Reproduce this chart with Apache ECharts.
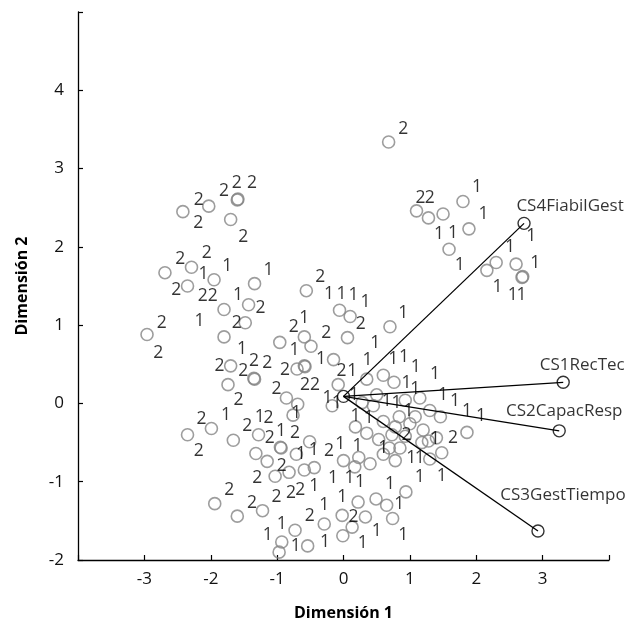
<!DOCTYPE html>
<html>
<head>
<meta charset="utf-8">
<script src="https://cdn.jsdelivr.net/npm/echarts@6/dist/echarts.min.js"></script>
<style>html,body{margin:0;padding:0;background:#fff}#c{width:638px;height:626px}</style>
</head>
<body>
<div id="c"></div>
<script>
// Object points (circles), [dim1, dim2]
const objectPoints = [
  [-2.42,2.45],[-2.03,2.52],[-1.60,2.60],[-1.59,2.61],[-1.70,2.35],
  [-2.69,1.67],[-2.29,1.74],[-1.95,1.58],[-2.35,1.50],[-1.34,1.53],
  [-1.80,1.20],[-1.43,1.26],[-1.48,1.03],[-2.96,0.88],[-1.80,0.85],
  [-0.96,0.78],[-0.59,0.85],[-0.49,0.73],[-1.70,0.48],[-1.35,0.32],
  [-1.34,0.31],[-1.74,0.24],[-0.70,0.44],[-0.59,0.48],[-0.58,0.47],
  [-0.86,0.07],[-0.69,-0.01],[-0.76,-0.15],[-2.35,-0.40],[-1.99,-0.32],
  [-1.66,-0.47],[-1.28,-0.40],[-0.95,-0.56],[-0.94,-0.57],[-0.51,-0.49],
  [-1.32,-0.64],[-1.15,-0.74],[-0.71,-0.65],[-1.03,-0.93],[-0.82,-0.88],
  [-0.59,-0.85],[-0.44,-0.82],[-1.94,-1.28],[-1.60,-1.44],[-1.22,-1.37],
  [-0.73,-1.62],[-0.93,-1.77],[-0.97,-1.90],[-0.54,-1.82],
  [-0.56,1.44],[-0.06,1.19],[0.10,1.11],[0.70,0.98],[0.06,0.84],
  [-0.15,0.56],[-0.08,0.24],[-0.17,-0.03],
  [0.35,0.31],[0.60,0.36],[0.76,0.27],[0.50,0.11],[0.28,0.01],
  [0.45,-0.03],[0.93,0.04],[1.15,0.07],[1.30,-0.09],[1.46,-0.17],
  [1.86,-0.37],[0.18,-0.30],[0.35,-0.38],[0.53,-0.46],[0.60,-0.23],
  [0.84,-0.17],[1.08,-0.17],[1.00,-0.26],[0.78,-0.30],[0.73,-0.40],
  [0.93,-0.42],[1.20,-0.34],[1.28,-0.48],[1.40,-0.44],[1.48,-0.63],
  [0.69,-0.57],[0.85,-0.57],[1.18,-0.50],[0.60,-0.65],[0.78,-0.73],
  [0.40,-0.77],[1.30,-0.71],[0.23,-0.69],[0.00,-0.73],[0.17,-0.81],
  [0.94,-1.13],[0.49,-1.22],[0.65,-1.30],[0.33,-1.45],[0.74,-1.47],
  [0.22,-1.26],[-0.29,-1.54],[-0.02,-1.43],[0.13,-1.58],[-0.01,-1.69],
  [0.68,3.34],[1.10,2.46],[1.28,2.37],[1.50,2.42],[1.80,2.58],
  [1.89,2.23],[1.59,1.97],[2.30,1.80],[2.16,1.70],[2.60,1.78],
  [2.70,1.62],[2.69,1.61]
];

// Group labels placed in the plane: [dim1, dim2, group]
const groupLabels = [
  [-2.18,2.60,'2'],[-1.80,2.71,'2'],[-1.61,2.81,'2'],[-1.38,2.81,'2'],
  [-2.19,2.31,'2'],[-1.51,2.13,'2'],[-2.06,1.92,'2'],[-2.46,1.85,'2'],
  [-1.75,1.76,'1'],[-1.13,1.71,'1'],[-2.11,1.65,'1'],[-2.52,1.45,'2'],
  [-2.12,1.37,'2'],[-1.97,1.37,'2'],[-1.59,1.39,'1'],[-1.25,1.22,'2'],
  [-2.74,1.03,'2'],[-2.17,1.05,'1'],[-1.61,1.03,'2'],[-0.75,0.97,'2'],
  [-0.59,1.09,'1'],[-2.79,0.65,'2'],[-1.53,0.69,'1'],[-0.74,0.68,'1'],
  [-1.87,0.48,'2'],[-1.51,0.42,'2'],[-1.35,0.54,'2'],[-1.15,0.52,'2'],
  [-0.88,0.43,'2'],[-0.58,0.24,'2'],[-0.43,0.24,'2'],[-1.01,0.18,'2'],
  [-1.58,0.04,'2'],[-2.14,-0.20,'2'],[-1.77,-0.15,'1'],[-1.45,-0.29,'2'],
  [-1.26,-0.17,'1'],[-1.13,-0.19,'2'],[-0.94,-0.35,'1'],[-0.73,-0.38,'2'],
  [-1.11,-0.44,'2'],[-2.18,-0.61,'2'],[-0.64,-0.65,'1'],[-0.45,-0.59,'1'],
  [-0.93,-0.80,'2'],[-1.30,-0.95,'2'],[-1.72,-1.10,'2'],[-1.01,-1.19,'2'],
  [-0.79,-1.14,'2'],[-0.65,-1.10,'2'],[-0.44,-1.05,'1'],[-1.38,-1.27,'2'],
  [-0.51,-1.44,'2'],[-0.93,-1.54,'1'],[-1.14,-1.68,'1'],[-0.72,-1.82,'1'],
  [-0.22,-0.61,'2'],[-0.05,-0.52,'1'],[0.21,-0.54,'1'],[-0.16,-0.95,'1'],
  [0.09,-0.95,'1'],[-0.02,-1.19,'1'],[-0.29,-1.30,'1'],[0.15,-1.45,'2'],
  [-0.28,-1.77,'1'],
  [-0.35,1.62,'2'],[-0.22,1.40,'1'],[-0.03,1.40,'1'],[0.15,1.38,'1'],
  [0.33,1.30,'1'],[0.90,1.16,'1'],[-0.26,0.90,'2'],[0.26,1.01,'2'],
  [0.48,0.77,'1'],[-0.34,0.57,'1'],[0.36,0.55,'1'],[0.75,0.57,'1'],
  [0.91,0.59,'1'],[1.09,0.47,'1'],[1.38,0.37,'1'],[-0.03,0.41,'2'],
  [0.13,0.42,'1'],[-0.24,0.07,'1'],[-0.10,0.01,'1'],[-0.71,-0.12,'1'],
  [0.95,0.26,'1'],[1.08,0.18,'1'],[1.50,0.11,'1'],[1.68,0.03,'1'],
  [1.86,-0.10,'1'],[2.07,-0.16,'1'],[0.16,0.11,'1'],[0.65,0.03,'1'],
  [0.80,0.01,'1'],[0.18,-0.16,'1'],[0.38,-0.18,'1'],[0.98,-0.10,'1'],
  [0.95,-0.40,'2'],[1.38,-0.46,'1'],[1.65,-0.44,'2'],[0.60,-0.57,'1'],
  [1.02,-0.70,'1'],[1.15,-0.70,'1'],[0.25,-1.01,'1'],[0.70,-1.03,'1'],
  [1.15,-0.94,'1'],[1.48,-0.93,'1'],[0.84,-1.29,'1'],[0.50,-1.63,'1'],
  [0.90,-1.68,'1'],[0.29,-1.78,'1'],
  [0.90,3.50,'2'],[1.16,2.62,'2'],[1.30,2.62,'2'],[2.01,2.77,'1'],
  [2.11,2.42,'1'],[1.44,2.16,'1'],[1.65,2.18,'1'],[1.75,1.77,'1'],
  [2.83,2.14,'1'],[2.51,2.00,'1'],[2.89,1.79,'1'],[2.32,1.49,'1'],
  [2.55,1.39,'1'],[2.68,1.39,'1']
];

// Variable vectors
const variableNames = ['CS1RecTec','CS2CapacResp','CS3GestTiempo','CS4FiabilGest'];
const variableX = [3.31, 3.25, 2.93, 2.72];
const variableY = [0.27, -0.35, -1.63, 2.30];
const vectorOrigin = [0, 0.09];

const xTicksHidden = [-4, 4];
const yTicksHidden = [5];

const FONT = 'Open Sans';
const labelOffsets = [[19,-17],[5,-20],[25,-36],[46,-17]];

const series = [];
variableNames.forEach(function(name, i){
  series.push({
    type:'line', silent:true, symbol:'none',
    data:[vectorOrigin, [variableX[i], variableY[i]]],
    lineStyle:{color:'#000', width:1.3},
    z:3
  });
});
series.push({
  type:'scatter', silent:true,
  data: objectPoints,
  symbol:'circle', symbolSize:12,
  itemStyle:{color:'rgba(0,0,0,0)', borderColor:'#858585', borderWidth:1.6},
  z:2
});
series.push({
  type:'scatter', silent:true,
  data: groupLabels,
  symbol:'circle', symbolSize:1,
  itemStyle:{color:'rgba(0,0,0,0)'},
  label:{show:true, position:'inside', formatter:function(p){return p.value[2];},
    color:'#000', fontSize:17.5, fontFamily:FONT},
  z:4
});
series.push({
  type:'scatter', silent:true,
  data: variableNames.map(function(n,i){
    return {value:[variableX[i], variableY[i]], name:n,
      label:{offset:labelOffsets[i]}};
  }),
  symbol:'circle', symbolSize:12,
  itemStyle:{color:'rgba(0,0,0,0)', borderColor:'#000', borderWidth:1.4},
  label:{show:true, position:'inside', formatter:'{b}', color:'#000',
    fontSize:17, fontFamily:FONT},
  z:5
});
series.push({
  type:'scatter', silent:true,
  data:[vectorOrigin],
  symbol:'circle', symbolSize:12,
  itemStyle:{color:'rgba(0,0,0,0)', borderColor:'#000', borderWidth:1.4},
  z:5
});

const chart = echarts.init(document.getElementById('c'), null, {renderer:'canvas'});
chart.setOption({
  animation:false,
  backgroundColor:'#fff',
  grid:{left:78, right:29, top:12, bottom:65},
  xAxis:{
    type:'value', min:-4, max:4, interval:1,
    name:'Dimensión 1', nameLocation:'middle', nameGap:45,
    nameTextStyle:{fontFamily:FONT, fontSize:16, fontWeight:'bold', color:'#000'},
    axisLine:{show:true, onZero:false, lineStyle:{color:'#000', width:1.3}},
    axisTick:{show:true, inside:true, length:5, lineStyle:{color:'#000', width:1.2}},
    axisLabel:{fontFamily:FONT, fontSize:17, color:'#111', margin:11,
      formatter:function(v){return xTicksHidden.indexOf(v)>=0?'':String(v);}},
    splitLine:{show:false}
  },
  yAxis:{
    type:'value', min:-2, max:5, interval:1,
    name:'Dimensión 2', nameLocation:'middle', nameGap:48,
    nameTextStyle:{fontFamily:FONT, fontSize:16, fontWeight:'bold', color:'#000'},
    axisLine:{show:true, onZero:false, lineStyle:{color:'#000', width:1.3}},
    axisTick:{show:true, inside:true, length:5, lineStyle:{color:'#000', width:1.2}},
    axisLabel:{fontFamily:FONT, fontSize:17, color:'#111', margin:14,
      formatter:function(v){return yTicksHidden.indexOf(v)>=0?'':String(v);}},
    splitLine:{show:false}
  },
  series:series
});
</script>
</body>
</html>
